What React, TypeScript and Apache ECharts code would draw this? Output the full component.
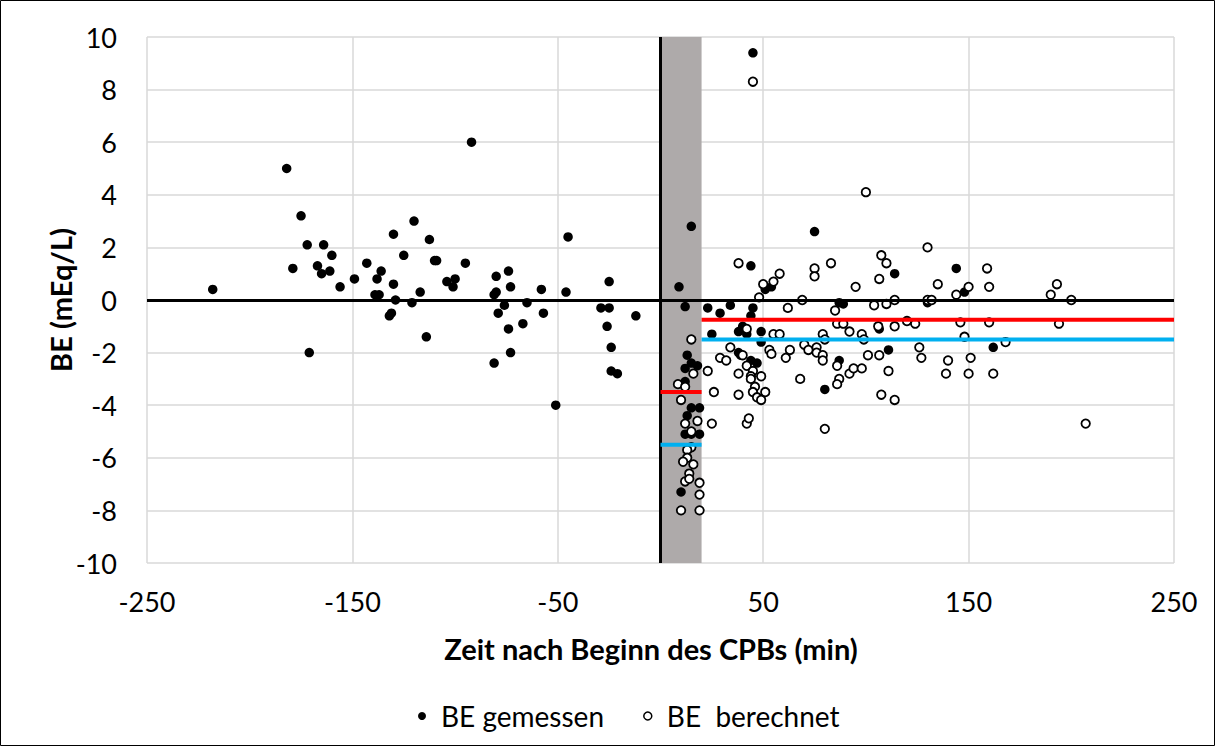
import React, { useEffect, useRef } from "react";
import * as echarts from "echarts";

// BE gemessen (filled) — [minutes after CPB start, BE mEq/L]
const measuredPre: [number, number][] = [
  [-218, 0.4], [-182, 5.0], [-179, 1.2], [-175, 3.2], [-172, 2.1], [-171, -2.0],
  [-167, 1.3], [-165, 1.0], [-164, 2.1], [-161, 1.1], [-160, 1.7], [-156, 0.5],
  [-149, 0.8], [-143, 1.4], [-139, 0.2], [-137, 0.2], [-138, 0.8], [-136, 1.1],
  [-132, -0.6], [-131, -0.5], [-130, 2.5], [-130, 0.6], [-129, 0], [-125, 1.7],
  [-121, -0.1], [-120, 3.0], [-117, 0.3], [-114, -1.4], [-112.5, 2.3], [-110, 1.5],
  [-109, 1.5], [-104, 0.7], [-101, 0.5], [-100, 0.8], [-95, 1.4], [-92, 6.0],
  [-81, 0.2], [-81, -2.4], [-80, 0.9], [-80, 0.3], [-79, -0.5], [-76, -0.2],
  [-74, 1.1], [-74, -1.1], [-73, 0.5], [-73, -2.0], [-67, -0.9], [-65, -0.1],
  [-58, 0.4], [-57, -0.5], [-51, -4.0], [-46, 0.3], [-45, 2.4], [-29, -0.3],
  [-26, -1.0], [-25, 0.7], [-25, -0.3], [-24, -1.8], [-24, -2.7], [-21, -2.8],
  [-12, -0.6],
];
const measuredDuring: [number, number][] = [
  [15, 2.8], [9, 0.5], [12, -0.25], [13, -2.1], [15, -2.4], [18, -2.5], [12, -2.6],
  [12, -3.1], [15, -4.1], [19, -4.1], [13, -4.4], [12, -5.1], [15, -5.1], [19, -5.1],
  [10, -7.3],
];
const measuredPost: [number, number][] = [
  [45, 9.4], [23, -0.3], [29, -0.5], [34, -0.2], [25, -1.3], [44, 1.3], [45, -0.3],
  [44, -0.6], [40, -1.0], [38, -1.2], [42, -1.3], [49, -1.2], [49, -1.6], [51, 0.4],
  [54, 0.5], [38, -2.0], [39, -2.1], [44, -2.3], [47, -2.4], [75, 2.6], [114, 1.0],
  [144, 1.2], [87, -0.1], [89, -0.15], [106.5, -1.1], [111, -1.9], [87, -2.3],
  [80, -3.4], [130, -0.1], [148, 0.3], [162, -1.8],
];

// BE berechnet (open)
const calculatedDuring: [number, number][] = [
  [8.5, -3.2], [12, -3.3], [10, -3.8], [15, -1.5], [16, -2.8], [12, -4.7], [18, -4.6],
  [15, -5.0], [15, -5.6], [13, -5.7], [13, -6.0], [11, -6.15], [16, -6.25], [14, -6.6],
  [12, -6.9], [14, -6.8], [19, -6.95], [19, -7.4], [10, -8.0], [19, -8.0],
];
const calculatedPost: [number, number][] = [
  [45, 8.3], [38, 1.4], [50, 0.6], [55, 0.7], [58, 1.0], [48, 0.1], [69, 0], [62, -0.3],
  [42, -1.1], [55, -1.3], [58, -1.3], [34, -1.8], [40, -2.1], [29, -2.2], [32, -2.3],
  [53, -1.9], [54, -2.05], [63, -1.9], [61, -2.2], [70, -1.7], [42, -2.5], [45, -2.7],
  [44, -2.9], [44, -3.0], [49, -2.9], [38, -2.8], [23, -2.7], [26, -3.5], [38, -3.6],
  [46, -3.3], [45, -3.5], [47, -3.7], [49, -3.8], [51, -3.5], [25, -4.7], [42, -4.7],
  [43, -4.5], [68, -3.0],
  [100, 4.1], [75, 1.2], [75, 0.9], [83, 1.4], [95, 0.5], [107.5, 1.7], [110, 1.4],
  [106.5, 0.8], [130, 2.0], [135, 0.6], [104, -0.2], [110, -0.15], [114, 0], [130, 0],
  [132, 0], [144, 0.2], [85, -0.4], [86, -0.9], [89, -0.9], [106, -1.0], [114, -1.0],
  [120, -0.8], [124, -0.9], [92, -1.2], [98, -1.3], [99, -1.5], [79, -1.3], [80, -1.5],
  [72, -1.9], [76, -1.8], [76, -2.0], [79, -2.1], [79, -2.3], [101, -2.1], [106.5, -2.1],
  [126, -1.8], [127, -2.2], [140, -2.3], [139, -2.8], [86, -2.5], [92, -2.8], [94, -2.6],
  [98, -2.6], [87, -3.0], [86, -3.2], [111, -2.7], [107.5, -3.6], [114, -3.8], [80, -4.9],
  [146, -0.85], [159, 1.2], [150, 0.5], [160, 0.5], [190, 0.2], [193, 0.6], [200, 0],
  [160, -0.85], [194, -0.9], [148, -1.4], [168, -1.6], [151, -2.2], [150, -2.8],
  [162, -2.8], [207, -4.7],
];

// CPB phase (shaded) and mean segments
const cpbPhase = [0, 20];
const segmentStart = [0, 20];
const segmentEnd = [20, 250];
const meanMeasured = [-3.5, -0.75];
const meanCalculated = [-5.5, -1.5];

const xMin = -250, xMax = 250, xStep = 100;
const yMin = -10, yMax = 10, yStep = 2;

const FONT = "Lato, 'Open Sans', sans-serif";

export default function App() {
  const ref = useRef<HTMLDivElement>(null);
  useEffect(() => {
    document.body.style.margin = "0";
    if (!ref.current) return;
    const chart = echarts.init(ref.current, undefined, { renderer: "svg" });

    const segSeries: any[] = [];
    segmentStart.forEach((s, i) => {
      segSeries.push({
        type: "line",
        name: "mean-measured-" + i,
        data: [[s, meanMeasured[i]], [segmentEnd[i], meanMeasured[i]]],
        symbol: "none",
        lineStyle: { color: "#FF0000", width: 4 },
        z: 5,
        silent: true,
      });
      segSeries.push({
        type: "line",
        name: "mean-calculated-" + i,
        data: [[s, meanCalculated[i]], [segmentEnd[i], meanCalculated[i]]],
        symbol: "none",
        lineStyle: { color: "#00B0F0", width: 4 },
        z: 5,
        silent: true,
      });
    });

    chart.setOption({
      animation: false,
      backgroundColor: "#fff",
      grid: { left: 147, right: 41, top: 37, bottom: 183 },
      xAxis: {
        type: "value",
        min: xMin,
        max: xMax,
        interval: xStep,
        axisLine: { show: false },
        axisTick: { show: false },
        splitLine: { show: true, lineStyle: { color: "#D9D9D9", width: 1.5 } },
        axisLabel: { fontSize: 27, fontFamily: FONT, color: "#000", margin: 25 },
      },
      yAxis: {
        type: "value",
        min: yMin,
        max: yMax,
        interval: yStep,
        axisLine: { show: false },
        axisTick: { show: false },
        splitLine: { show: true, lineStyle: { color: "#D9D9D9", width: 1.5 } },
        axisLabel: { fontSize: 27, fontFamily: FONT, color: "#000", margin: 30 },
      },
      legend: {
        left: 413,
        top: 697,
        itemWidth: 28,
        itemHeight: 8,
        itemGap: 39,
        textStyle: { fontSize: 28, fontFamily: FONT, color: "#000" },
        data: [
          { name: "BE gemessen", icon: "circle", itemStyle: { color: "#000", borderWidth: 0, opacity: 1 } },
          {
            name: "BE  berechnet",
            icon: "circle",
            itemStyle: { color: "#fff", borderColor: "#000", borderWidth: 1.5, opacity: 1 },
          },
        ],
      },
      graphic: [
        {
          type: "rect",
          shape: { x: 0.5, y: 0.5, width: 1214, height: 745 },
          style: { fill: "none", stroke: "#000", lineWidth: 1 },
          silent: true,
        },
        {
          type: "text",
          x: 651,
          y: 648,
          style: {
            text: "Zeit nach Beginn des CPBs (min)",
            font: `bold 29px ${FONT}`,
            fill: "#000",
            textAlign: "center",
            textVerticalAlign: "middle",
          },
        },
        {
          type: "text",
          x: 60,
          y: 300,
          rotation: Math.PI / 2,
          style: {
            text: "BE (mEq/L)",
            font: `bold 29px ${FONT}`,
            fill: "#000",
            textAlign: "center",
            textVerticalAlign: "middle",
          },
        },
      ],
      series: [
        {
          type: "line",
          name: "ref",
          data: [],
          silent: true,
          z: 1,
          markArea: {
            silent: true,
            itemStyle: { color: "#AEAAAA", opacity: 1 },
            data: [[{ xAxis: cpbPhase[0] }, { xAxis: cpbPhase[1] }]],
          },
          markLine: {
            silent: true,
            symbol: "none",
            label: { show: false },
            lineStyle: { color: "#000", width: 3, type: "solid", opacity: 1 },
            data: [{ xAxis: 0 }, { yAxis: 0 }],
          },
        },
        {
          type: "scatter",
          name: "BE gemessen",
          data: [...measuredPre, ...measuredDuring, ...measuredPost],
          symbol: "circle",
          symbolSize: 9.5,
          itemStyle: { color: "#000", opacity: 1 },
          z: 3,
        },
        {
          type: "scatter",
          name: "BE  berechnet",
          data: [...calculatedDuring, ...calculatedPost],
          symbol: "circle",
          symbolSize: 8.5,
          itemStyle: { color: "#fff", borderColor: "#000", borderWidth: 1.8, opacity: 1 },
          z: 3,
        },
        ...segSeries,
      ],
    });
    return () => chart.dispose();
  }, []);
  return <div ref={ref} style={{ width: 1215, height: 746 }} />;
}
